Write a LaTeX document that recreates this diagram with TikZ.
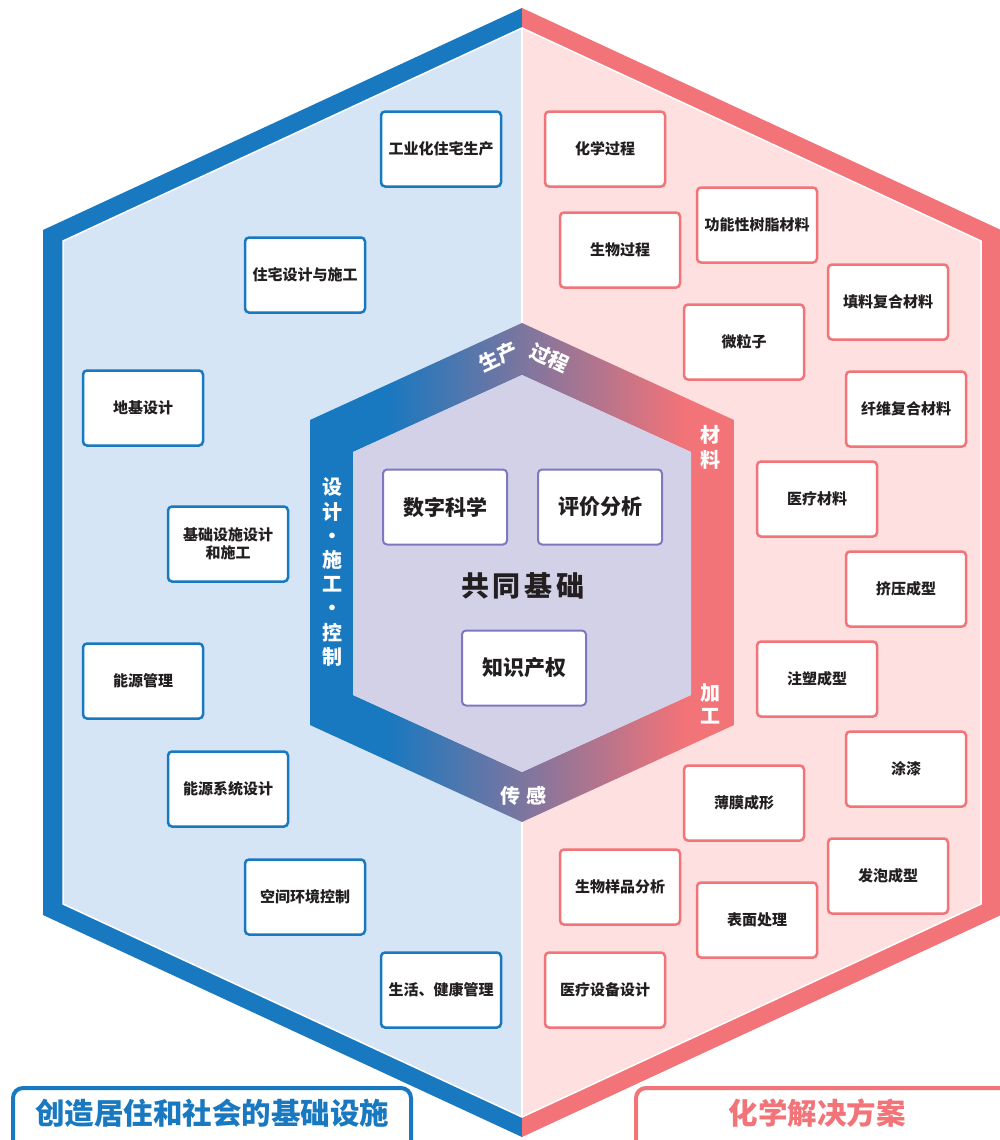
\documentclass[tikz,border=0pt]{standalone}
\usepackage{fontspec}
\setmainfont{Noto Sans CJK SC}
\usetikzlibrary{calc}

\definecolor{infrablue}{RGB}{24,120,192}
\definecolor{chempink}{RGB}{242,115,120}
\definecolor{infralight}{RGB}{214,229,245}
\definecolor{chemlight}{RGB}{253,224,223}
\definecolor{corelilac}{RGB}{211,209,232}
\definecolor{coreedge}{RGB}{125,120,192}
\definecolor{boxtext}{RGB}{35,31,32}

\pgfdeclarehorizontalshading{bandshade}{100bp}{color(0bp)=(infrablue); color(34bp)=(infrablue); color(69bp)=(chempink); color(100bp)=(chempink)}

\begin{document}
\begin{tikzpicture}[x=1pt,y=-1pt]
     \tikzstyle{topic}=[fill=white, line width=2.5, rounded corners=4, minimum width=120, minimum height=75, inner sep=2, text=boxtext, font=\fontsize{15}{18}\selectfont\bfseries, align=center]
     \tikzstyle{infrabox}=[topic, draw=infrablue]
     \tikzstyle{chembox}=[topic, draw=chempink]
     \tikzstyle{corebox}=[fill=white, draw=coreedge, line width=2, rounded corners=4, minimum width=124, minimum height=75, text=boxtext, font=\fontsize{21}{24}\selectfont\bfseries]
     \tikzstyle{bandtext}=[text=white, inner sep=0, font=\fontsize{20}{24}\selectfont\bfseries, align=center]

     \useasboundingbox (0,0) rectangle (999,1140);

     % outer hexagon, two halves
     \fill[infrablue] (522,8) -- (43,230) -- (43,915) -- (522,1137) -- cycle;
     \fill[chempink] (522,8) -- (1001,230) -- (1001,915) -- (522,1137) -- cycle;
     \fill[infralight] (522,28) -- (63,241) -- (63,904) -- (522,1117) -- cycle;
     \fill[chemlight] (522,28) -- (981,241) -- (981,904) -- (522,1117) -- cycle;
     \draw[white, line width=1.5] (522,28) -- (63,241) -- (63,904) -- (522,1117)
                                  -- (981,904) -- (981,241) -- cycle;
     \draw[white, line width=1.5] (522,28) -- (522,1117);

     % middle hexagon band
     \shade[shading=bandshade, even odd rule]
        (522,323) -- (734,420) -- (734,725) -- (522,822) -- (310,725) -- (310,420) -- cycle
        (522,375) -- (691,452) -- (691,695) -- (522,772) -- (353,695) -- (353,452) -- cycle;
     \fill[corelilac] (522,375) -- (691,452) -- (691,695) -- (522,772) -- (353,695) -- (353,452) -- cycle;

     \node[bandtext, rotate=25] (prodA) at (498,357) {生产};
     \node[bandtext, rotate=-25] (prodB) at (550,358) {过程};
     \node[bandtext, font=\fontsize{20}{24.2}\selectfont\bfseries] (design) at (332,572)
        {设\\计\\・\\施\\工\\・\\控\\制};
     \node[bandtext, font=\fontsize{20}{25}\selectfont\bfseries] (material) at (710,447) {材\\料};
     \node[bandtext, font=\fontsize{20}{23}\selectfont\bfseries] (process) at (710,704) {加\\工};
     \node[bandtext] (sensing) at (523,796) {传\hspace{6pt}感};

     % common base
     \node[corebox] (digisci) at (445,507) {数字科学};
     \node[corebox] (evaluation) at (600,507) {评价分析};
     \node[corebox] (ipright) at (524,668) {知识产权};
     \node[text=boxtext, font=\fontsize{28}{32}\selectfont\bfseries] (common) at (523,586)
        {共\hspace{4pt}同\hspace{4pt}基\hspace{4pt}础};

     % infrastructure side
     \node[infrabox] (prefab) at (441,149) {工业化住宅生产};
     \node[infrabox] (housedesign) at (305,275) {住宅设计与施工};
     \node[infrabox] (foundation) at (143,408) {地基设计};
     \node[infrabox] (infradesign) at (228,544) {基础设施设计\\和施工};
     \node[infrabox] (energymgmt) at (143,681) {能源管理};
     \node[infrabox] (energysys) at (228,789) {能源系统设计};
     \node[infrabox] (indoorctl) at (305,897) {空间环境控制};
     \node[infrabox] (lifehealth) at (441,990) {生活、健康管理};

     % chemistry side
     \node[chembox] (chemproc) at (605,149) {化学过程};
     \node[chembox] (bioproc) at (620,250) {生物过程};
     \node[chembox] (resin) at (757,225) {功能性树脂材料};
     \node[chembox] (fillercomp) at (888,302) {填料复合材料};
     \node[chembox] (microparticle) at (744,342) {微粒子};
     \node[chembox] (fibercomp) at (906,409) {纤维复合材料};
     \node[chembox] (medmat) at (817,499) {医疗材料};
     \node[chembox] (extrusion) at (906,589) {挤压成型};
     \node[chembox] (injection) at (817,679) {注塑成型};
     \node[chembox] (coating) at (906,769) {涂漆};
     \node[chembox] (filmform) at (744,803) {薄膜成形};
     \node[chembox] (foaming) at (888,876) {发泡成型};
     \node[chembox] (biosample) at (620,887) {生物样品分析};
     \node[chembox] (surface) at (757,920) {表面处理};
     \node[chembox] (meddevice) at (605,990) {医疗设备设计};

     % captions
     \draw[infrablue, fill=white, line width=4, rounded corners=10] (13,1088) rectangle (411,1152);
     \node[text=infrablue, font=\fontsize{29.5}{32}\selectfont\bfseries] (infracap) at (212,1113) {创造居住和社会的基础设施};
     \draw[chempink, fill=white, line width=4, rounded corners=10] (636,1088) rectangle (1012,1152);
     \node[text=chempink, font=\fontsize{29.5}{32}\selectfont\bfseries] (chemcap) at (817,1113) {化学解决方案};
\end{tikzpicture}
\end{document}
